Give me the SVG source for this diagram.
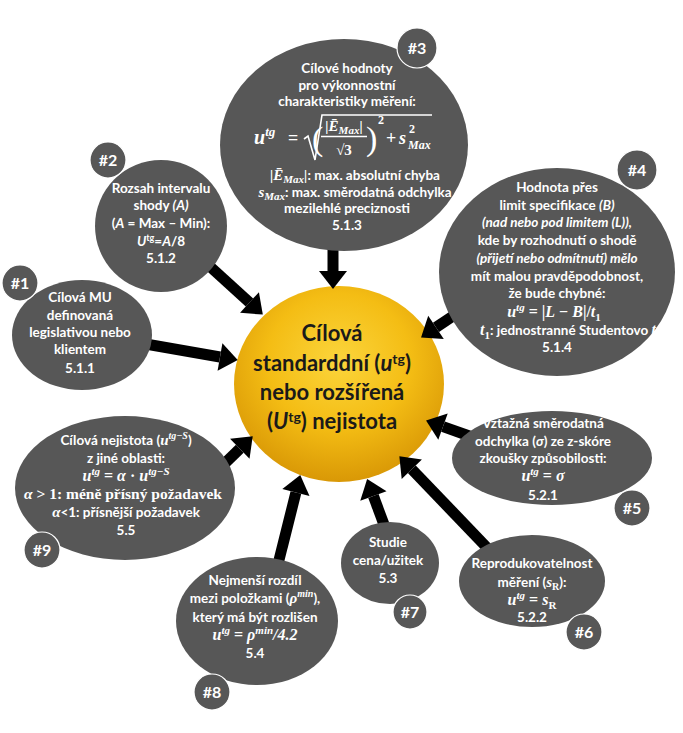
<svg xmlns="http://www.w3.org/2000/svg" width="683" height="733" viewBox="0 0 683 733">
<defs>
<radialGradient id="gold" cx="50%" cy="38%" r="62%">
<stop offset="0" stop-color="#fbd53c"/>
<stop offset="0.55" stop-color="#f4bd14"/>
<stop offset="1" stop-color="#d99806"/>
</radialGradient>
<marker id="ah" markerUnits="userSpaceOnUse" markerWidth="20" markerHeight="30" viewBox="0 -15 18 30" refX="0" refY="0" orient="auto">
<path d="M0,-14 L18,0 L0,14 Z" fill="#000"/>
</marker>
<style>
.n{fill:#575757}
.b{fill:#575757;stroke:#ffffff;stroke-width:1.2}
.bt{font-family:Lato,"Open Sans",sans-serif;font-weight:bold;font-size:16px;fill:#fff;text-anchor:middle}
.t{font-family:Lato,"Open Sans",sans-serif;font-weight:bold;font-size:13.5px;fill:#fff;text-anchor:middle}
.m{font-family:"Liberation Serif","DejaVu Serif",serif;font-style:italic;font-weight:bold}
.r{font-family:"Liberation Serif","DejaVu Serif",serif;font-style:normal;font-weight:bold}
.i{font-style:italic}
.c{font-family:Lato,"Open Sans",sans-serif;font-weight:bold;font-size:22px;fill:#1a1a1a;text-anchor:middle}
.arr{stroke:#000;stroke-width:11;fill:none;marker-end:url(#ah)}
</style>
</defs>
<rect width="683" height="733" fill="#fff"/>

<g id="center">
<ellipse cx="339" cy="384" rx="105" ry="98" fill="url(#gold)"/>
<text class="c" x="332" y="341">Cílová</text>
<text class="c" x="332" y="371">standarddní (<tspan class="i">u</tspan><tspan font-size="14" baseline-shift="7">tg</tspan>)</text>
<text class="c" x="332" y="400">nebo rozšířená</text>
<text class="c" x="332" y="429">(<tspan class="i">U</tspan><tspan font-size="14" baseline-shift="7">tg</tspan>) nejistota</text>
</g>

<g id="connectors">
<line class="arr" x1="140" y1="343" x2="220" y2="357"/>
<line class="arr" x1="205" y1="262" x2="249.5" y2="302.5"/>
<line class="arr" x1="333" y1="240" x2="333" y2="271"/>
<line class="arr" x1="462" y1="310" x2="436" y2="327.4"/>
<line class="arr" x1="475" y1="438" x2="443" y2="426.6"/>
<line class="arr" x1="495" y1="556" x2="411.8" y2="469.2"/>
<line class="arr" x1="386" y1="530" x2="373.4" y2="496"/>
<line class="arr" x1="277" y1="568" x2="295.9" y2="492.5"/>
<line class="arr" x1="220" y1="468" x2="239.8" y2="448.8"/>
</g>

<g id="n1">
<ellipse class="n" cx="82" cy="335" rx="70" ry="55"/>
<circle class="b" cx="20" cy="283" r="18"/>
<text class="bt" x="20" y="289">#1</text>
<text class="t" x="80" y="302">Cílová MU<tspan x="80" y="320">definovaná</tspan><tspan x="80" y="337">legislativou nebo</tspan><tspan x="80" y="354">klientem</tspan><tspan x="80" y="373">5.1.1</tspan></text>
</g>

<g id="n2">
<ellipse class="n" cx="161" cy="226" rx="66" ry="66"/>
<circle class="b" cx="108" cy="160" r="18"/>
<text class="bt" x="108" y="166">#2</text>
<text class="t" x="161" y="193">Rozsah intervalu<tspan x="161" y="210">shody  <tspan class="i">(A)</tspan></tspan><tspan x="161" y="228">(<tspan class="i">A</tspan> = Max – Min):</tspan><tspan x="161" y="246"><tspan class="i">U</tspan><tspan font-size="9" baseline-shift="5">tg</tspan>=<tspan class="i">A</tspan>/8</tspan><tspan x="161" y="263">5.1.2</tspan></text>
</g>

<g id="n3">
<ellipse class="n" cx="344" cy="145" rx="124" ry="106"/>
<circle class="b" cx="417" cy="48" r="20"/>
<text class="bt" x="417" y="54">#3</text>
<text class="t" x="347" y="73">Cílové hodnoty<tspan x="347" y="90">pro výkonnostní</tspan><tspan x="347" y="106">charakteristiky měření:</tspan></text>
<text class="t m" x="254" y="144" style="text-anchor:start;font-size:20px">u<tspan font-size="13" baseline-shift="8">tg</tspan></text>
<text class="t r" x="288" y="144" style="text-anchor:start;font-size:18px">=</text>
<path d="M304,139 L308,136 L315,160 L322,115 L432,115" fill="none" stroke="#fff" stroke-width="1.6"/>
<text class="t r" x="312" y="150" style="text-anchor:start;font-size:34px;font-weight:normal">(</text>
<text class="t m" x="344" y="131" style="font-size:15px">|Ē<tspan font-size="11" baseline-shift="-3">Max</tspan>|</text>
<line x1="321" y1="136.5" x2="367" y2="136.5" stroke="#fff" stroke-width="1.3"/>
<text class="t r" x="344" y="155" style="font-size:15px">√3</text>
<text class="t r" x="366" y="150" style="text-anchor:start;font-size:34px;font-weight:normal">)</text>
<text class="t r" x="378" y="124" style="text-anchor:start;font-size:12px">2</text>
<text class="t r" x="386" y="144" style="text-anchor:start;font-size:18px">+</text>
<text class="t m" x="399" y="144" style="text-anchor:start;font-size:18px">s</text>
<text class="t r" x="409" y="133" style="text-anchor:start;font-size:12px">2</text>
<text class="t m" x="408" y="149" style="text-anchor:start;font-size:12px">Max</text>
<text class="t" x="355" y="180"><tspan class="m" font-size="15">|Ē</tspan><tspan class="m" font-size="11" baseline-shift="-3">Max</tspan><tspan class="m" font-size="15">|</tspan>: max. absolutní chyba<tspan x="355" y="197"><tspan class="m" font-size="15">s</tspan><tspan class="m" font-size="11" baseline-shift="-3">Max</tspan>: max. směrodatná odchylka</tspan><tspan x="347" y="213">mezilehlé preciznosti</tspan><tspan x="347" y="230">5.1.3</tspan></text>
</g>

<g id="n4">
<ellipse class="n" cx="557" cy="272" rx="118" ry="104"/>
<circle class="b" cx="637" cy="170" r="20"/>
<text class="bt" x="637" y="176">#4</text>
<text class="t" x="557" y="192">Hodnota přes<tspan x="557" y="210">limit specifikace <tspan class="i">(B)</tspan></tspan><tspan x="557" y="227" class="i">(nad nebo pod limitem (L)),</tspan><tspan x="557" y="245">kde by rozhodnutí o shodě</tspan><tspan x="557" y="263" class="i">(přijetí nebo odmítnutí) mělo</tspan><tspan x="557" y="281">mít malou pravděpodobnost,</tspan><tspan x="557" y="298">že bude chybné:</tspan><tspan x="554" y="317" class="m" font-size="16">u<tspan font-size="11" baseline-shift="6">tg</tspan><tspan class="r"> = |</tspan>L<tspan class="r"> − </tspan>B<tspan class="r">|/</tspan>t<tspan class="r" font-size="11" baseline-shift="-4">1</tspan></tspan><tspan x="568" y="335"><tspan class="m" font-size="16">t</tspan><tspan class="r" font-size="11" baseline-shift="-4">1</tspan>: jednostranné Studentovo <tspan class="m" font-size="16">t</tspan></tspan><tspan x="557" y="352">5.1.4</tspan></text>
</g>

<g id="n5">
<ellipse class="n" cx="552" cy="458" rx="100" ry="47"/>
<circle class="b" cx="632" cy="508" r="18"/>
<text class="bt" x="632" y="514">#5</text>
<text class="t" x="543" y="428">Vztažná směrodatná<tspan x="543" y="446">odchylka (<tspan class="i">σ</tspan>) ze z-skóre</tspan><tspan x="543" y="463">zkoušky způsobilosti:</tspan><tspan x="543" y="481" class="m" font-size="16">u<tspan font-size="11" baseline-shift="6">tg</tspan><tspan class="r"> = </tspan>σ</tspan><tspan x="543" y="500">5.2.1</tspan></text>
</g>

<g id="n6">
<ellipse class="n" cx="532" cy="581" rx="73" ry="46"/>
<circle class="b" cx="584" cy="632" r="18"/>
<text class="bt" x="584" y="638">#6</text>
<text class="t" x="532" y="568">Reprodukovatelnost<tspan x="532" y="587">měření  (<tspan class="m" font-size="15">s</tspan><tspan class="r" font-size="10" baseline-shift="-3">R</tspan>):</tspan><tspan x="532" y="605" class="m" font-size="16">u<tspan font-size="11" baseline-shift="6">tg</tspan><tspan class="r"> = </tspan>s<tspan class="r" font-size="11" baseline-shift="-4">R</tspan></tspan><tspan x="532" y="622">5.2.2</tspan></text>
</g>

<g id="n7">
<ellipse class="n" cx="390" cy="563" rx="49" ry="41"/>
<circle class="b" cx="410" cy="612" r="17"/>
<text class="bt" x="410" y="618">#7</text>
<text class="t" x="388" y="547">Studie<tspan x="388" y="565">cena/užitek</tspan><tspan x="388" y="583">5.3</tspan></text>
</g>

<g id="n8">
<ellipse class="n" cx="257" cy="621" rx="81" ry="64"/>
<circle class="b" cx="212" cy="692" r="18"/>
<text class="bt" x="212" y="698">#8</text>
<text class="t" x="255" y="585">Nejmenší rozdíl<tspan x="255" y="603">mezi položkami (<tspan class="m" font-size="15">ρ</tspan><tspan class="m" font-size="10" baseline-shift="6">min</tspan>),</tspan><tspan x="255" y="622">který má být rozlišen</tspan><tspan x="255" y="640" class="m" font-size="16">u<tspan font-size="11" baseline-shift="6">tg</tspan><tspan class="r"> = </tspan>ρ<tspan font-size="11" baseline-shift="6">min</tspan>/4.2</tspan><tspan x="255" y="658">5.4</tspan></text>
</g>

<g id="n9">
<ellipse class="n" cx="125" cy="488" rx="110" ry="72"/>
<circle class="b" cx="42" cy="550" r="18"/>
<text class="bt" x="42" y="556">#9</text>
<text class="t" x="126" y="445">Cílová nejistota (<tspan class="m" font-size="15">u</tspan><tspan class="m" font-size="10" baseline-shift="6">tg−S</tspan>)<tspan x="126" y="463">z jiné oblasti:</tspan><tspan x="126" y="481" class="m" font-size="16">u<tspan font-size="11" baseline-shift="6">tg</tspan><tspan class="r"> = </tspan>α<tspan class="r"> · </tspan>u<tspan font-size="11" baseline-shift="6">tg−S</tspan></tspan><tspan x="123" y="499" class="r" font-size="15.5"><tspan class="m">α</tspan> &gt; 1: méně přísný požadavek</tspan><tspan x="126" y="517"><tspan class="m" font-size="15">α</tspan>&lt;1: přísnější požadavek</tspan><tspan x="126" y="535">5.5</tspan></text>
</g>
</svg>
